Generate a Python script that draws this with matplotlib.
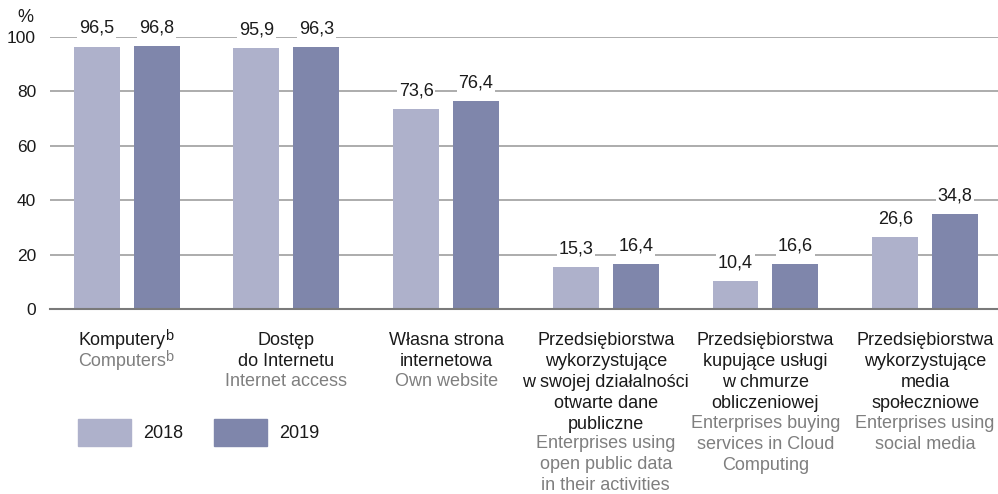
import numpy as np
import matplotlib.pyplot as plt
from matplotlib.patches import Patch

plt.rcParams['font.family'] = ['Liberation Sans', 'DejaVu Sans']

labels_pl = ["Komputery",
             "Dostęp\ndo Internetu",
             "Własna strona\ninternetowa",
             "Przedsiębiorstwa\nwykorzystujące\nw swojej działalności\notwarte dane\npubliczne",
             "Przedsiębiorstwa\nkupujące usługi\nw chmurze\nobliczeniowej",
             "Przedsiębiorstwa\nwykorzystujące\nmedia\nspołeczniowe"]
labels_en = ["Computers",
             "Internet access",
             "Own website",
             "Enterprises using\nopen public data\nin their activities",
             "Enterprises buying\nservices in Cloud\nComputing",
             "Enterprises using\nsocial media"]
notes = ["b", "", "", "", "", ""]
years = ["2018", "2019"]
v2018 = [96.5, 95.9, 73.6, 15.3, 10.4, 26.6]
v2019 = [96.8, 96.3, 76.4, 16.4, 16.6, 34.8]

c2018 = '#aeb1cb'
c2019 = '#7f86ab'
black = '#1a1a1a'
grey = '#7f7f7f'
fs = 13
line_pt = 14.9   # distance between label lines, in points
top_pt = 16.5    # first label line below the axis

fig = plt.figure(figsize=(9.98, 4.94), dpi=100)
ax = fig.add_axes([50 / 998, 185 / 494, 948 / 998, 272 / 494])

x = np.arange(len(labels_pl))
w = 0.2875
off = 0.1875
b1 = ax.bar(x - off, v2018, w, color=c2018, zorder=2)
b2 = ax.bar(x + off, v2019, w, color=c2019, zorder=2)

for bars, vals in ((b1, v2018), (b2, v2019)):
    for r, v in zip(bars, vals):
        ax.annotate(f"{v:.1f}".replace('.', ','),
                    xy=(r.get_x() + r.get_width() / 2, v),
                    xytext=(0, 13), textcoords='offset points',
                    ha='center', va='center', fontsize=fs, color=black,
                    bbox=dict(boxstyle='square,pad=0.1', fc='white', ec='none'),
                    zorder=4)

ax.set_xlim(-0.48, 5.456)
ax.set_ylim(0, 100)
ax.set_yticks(range(0, 101, 20))
ax.set_xticks([])
ax.tick_params(axis='y', length=0, pad=10, labelsize=12.5, labelcolor=black)
ax.yaxis.grid(True, color='#a6a6a6', linewidth=1.3, zorder=1)
ax.set_axisbelow(True)
for s in ('left', 'right', 'top'):
    ax.spines[s].set_visible(False)
ax.spines['bottom'].set_color('#7a7a7a')
ax.spines['bottom'].set_linewidth(1.5)
ax.spines['bottom'].set_zorder(3)


def label(i, text, y, color):
    dx = -3 if notes[i] else 0
    t = ax.annotate(text, xy=(x[i], 0), xycoords=('data', 'axes fraction'),
                    xytext=(dx, -y), textcoords='offset points',
                    ha='center', va='top', fontsize=fs, color=color,
                    linespacing=1.31, multialignment='center')
    if notes[i]:
        # superscript footnote letter
        ax.annotate(notes[i], xy=(1, 1), xycoords=t, xytext=(-0.8, 2),
                    textcoords='offset points', ha='left', va='top',
                    fontsize=10.5, color=color)


for i in range(len(labels_pl)):
    n = labels_pl[i].count('\n') + 1
    label(i, labels_pl[i], top_pt, black)
    label(i, labels_en[i], top_pt + n * line_pt, grey)

fig.text(17 / 998, 1 - 17 / 494, '%', fontsize=fs, color=black, va='center')

handles = [Patch(color=c2018), Patch(color=c2019)]
fig.legend(handles, years, loc='upper left', bbox_to_anchor=(78 / 998, 1 - 419 / 494),
           ncol=2, frameon=False, fontsize=fs, handlelength=2.95, handleheight=1.9,
           handletextpad=0.65, columnspacing=1.7, borderpad=0, borderaxespad=0,
           labelcolor=black)

fig.savefig('out.png', dpi=100)
